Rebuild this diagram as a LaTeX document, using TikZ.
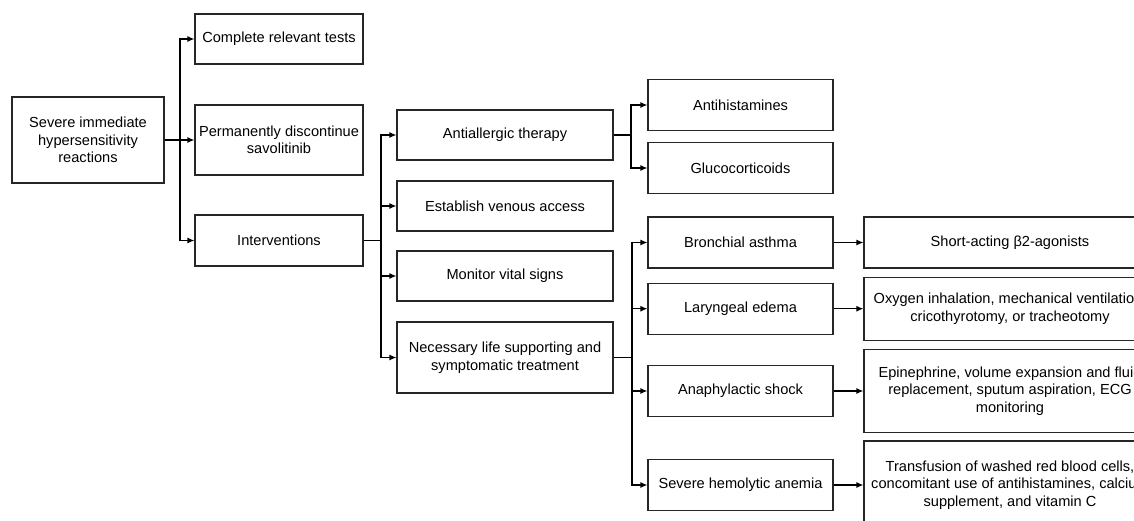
\documentclass[tikz,border=0pt]{standalone}
\usepackage{fontspec}
\setmainfont{Liberation Sans}
\usetikzlibrary{arrows.meta}
\begin{document}
\begin{tikzpicture}[x=1pt,y=-1pt,
  box/.style={draw=black!85,line width=1.2pt,rectangle,inner sep=0pt,align=center,
    font=\fontsize{14.6}{17.5}\selectfont},
  arr/.style={line width=1.2pt,-{Latex[length=7pt,width=6pt]}},
  ln/.style={line width=1.2pt}]
\useasboundingbox (0,0) rectangle (1134,521);
\clip (0,0) rectangle (1134,521);
\fill[white] (0,0) rectangle (1134,521);
% column 1
\node[box,minimum width=152,minimum height=86] (root) at (88,140) {Severe immediate\\hypersensitivity\\reactions};
% column 2
\node[box,minimum width=168,minimum height=50] (tests) at (279,39) {Complete relevant tests};
\node[box,minimum width=168,minimum height=70] (perm) at (279,140) {Permanently discontinue\\savolitinib};
\node[box,minimum width=168,minimum height=51] (interv) at (279,240.5) {Interventions};
% column 3
\node[box,minimum width=216,minimum height=50] (anti) at (505,135) {Antiallergic therapy};
\node[box,minimum width=216,minimum height=50] (venous) at (505,206) {Establish venous access};
\node[box,minimum width=216,minimum height=50] (monitor) at (505,276) {Monitor vital signs};
\node[box,minimum width=216,minimum height=71] (necess) at (505,357.5) {Necessary life supporting and\\symptomatic treatment};
% column 4
\node[box,minimum width=185,minimum height=51] (antih) at (740.5,105) {Antihistamines};
\node[box,minimum width=185,minimum height=51] (gluco) at (740.5,168) {Glucocorticoids};
\node[box,minimum width=185,minimum height=51] (bronch) at (740.5,242.5) {Bronchial asthma};
\node[box,minimum width=185,minimum height=51] (laryng) at (740.5,308.7) {Laryngeal edema};
\node[box,minimum width=185,minimum height=51] (anaph) at (740.5,391) {Anaphylactic shock};
\node[box,minimum width=185,minimum height=51] (hemo) at (740.5,485) {Severe hemolytic anemia};
% column 5
\node[box,minimum width=292,minimum height=51] (short) at (1010,242.5) {Short-acting β2-agonists};
\node[box,minimum width=292,minimum height=63] (oxy) at (1010,308.7) {Oxygen inhalation, mechanical ventilation,\\cricothyrotomy, or tracheotomy};
\node[box,minimum width=292,minimum height=83] (epi) at (1010,391) {Epinephrine, volume expansion and fluid\\replacement, sputum aspiration, ECG\\monitoring};
\node[box,minimum width=292,minimum height=88] (trans) at (1010,485) {Transfusion of washed red blood cells,\\concomitant use of antihistamines, calcium\\supplement, and vitamin C};
% connectors
\coordinate (b1) at (180,140);
\draw[ln] (root.east) -- (b1);
\draw[arr] (b1) |- (tests.west);
\draw[arr] (b1) -- (perm.west);
\draw[arr] (b1) |- (interv.west);
\coordinate (b2) at (381,240.5);
\draw[ln] (interv.east) -- (b2);
\draw[arr] (b2) |- (anti.west);
\draw[arr] (b2) |- (venous.west);
\draw[arr] (b2) |- (monitor.west);
\draw[arr] (b2) |- (necess.west);
\coordinate (b3) at (631,135);
\draw[ln] (anti.east) -- (b3);
\draw[arr] (b3) |- (antih.west);
\draw[arr] (b3) |- (gluco.west);
\coordinate (b4) at (632,357.5);
\draw[ln] (necess.east) -- (b4);
\draw[arr] (b4) |- (bronch.west);
\draw[arr] (b4) |- (laryng.west);
\draw[arr] (b4) |- (anaph.west);
\draw[arr] (b4) |- (hemo.west);
\draw[arr] (bronch.east) -- (short.west);
\draw[arr] (laryng.east) -- (oxy.west);
\draw[arr] (anaph.east) -- (epi.west);
\draw[arr] (hemo.east) -- (trans.west);
\end{tikzpicture}
\end{document}
